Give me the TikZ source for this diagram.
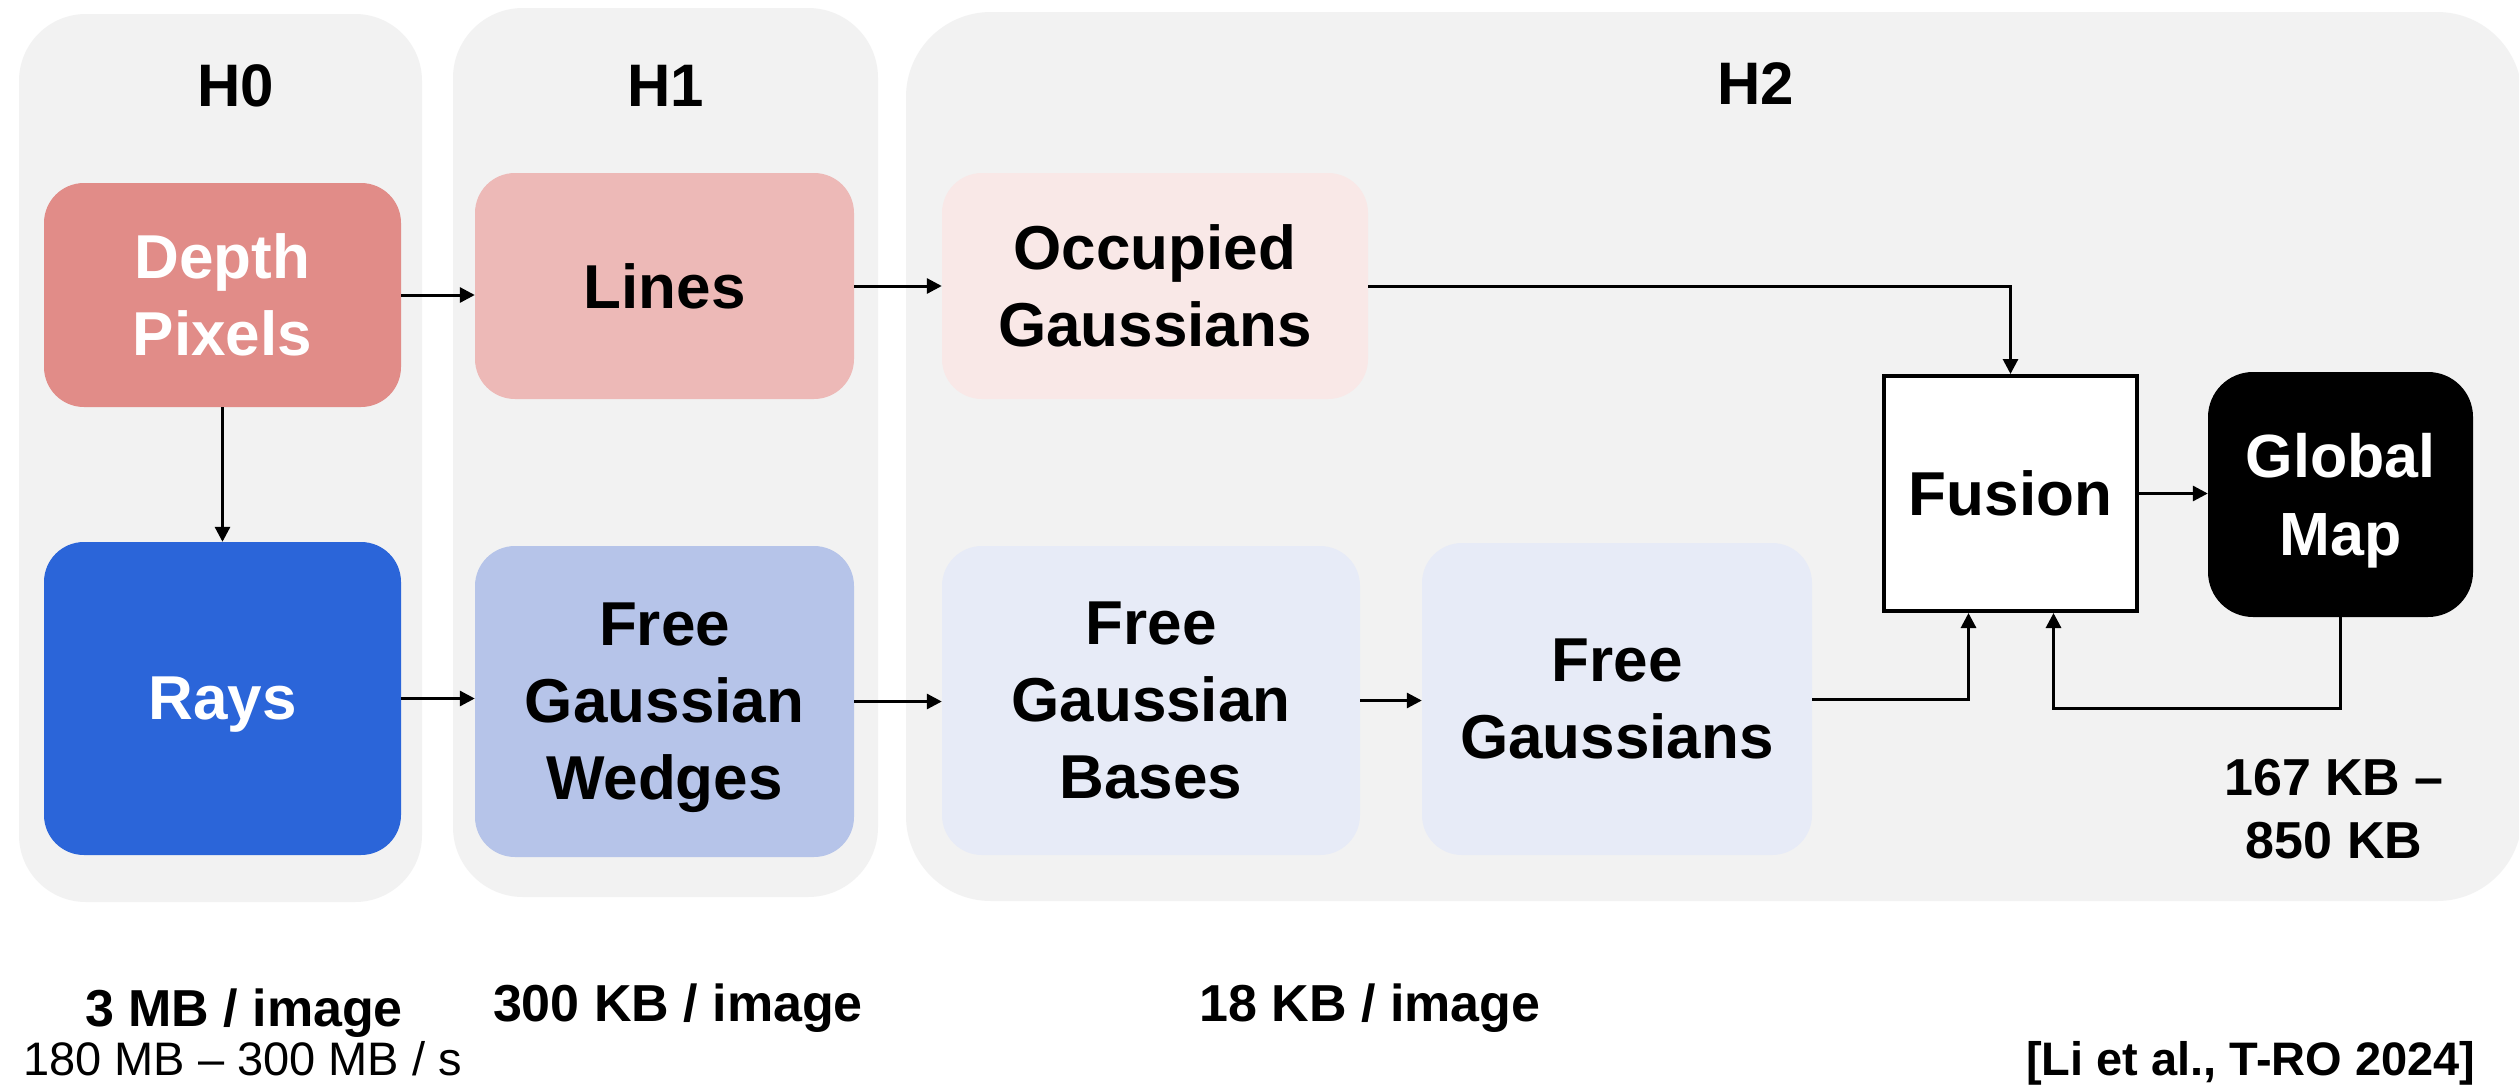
\documentclass[tikz,border=0pt]{standalone}
\usepackage{fontspec}
\setmainfont{Liberation Sans}
\usetikzlibrary{arrows.meta}
\definecolor{panelc}{HTML}{F2F2F2}
\definecolor{depthc}{HTML}{E18C88}
\definecolor{linesc}{HTML}{EDB9B7}
\definecolor{occc}{HTML}{F9E8E7}
\definecolor{raysc}{HTML}{2B65D9}
\definecolor{wedgec}{HTML}{B6C4E9}
\definecolor{basec}{HTML}{E7EBF7}
\begin{document}
\begin{tikzpicture}[x=1pt,y=-1pt,
  panel/.style={fill=panelc, draw=none, inner sep=0pt, rectangle},
  box/.style={rectangle, rounded corners=40pt, draw=none, inner sep=0pt, align=center, text depth=0pt,
    font=\bfseries\fontsize{62}{77}\selectfont},
  conn/.style={line width=3pt, -{Triangle[length=15pt,width=15pt]}},
  head/.style={anchor=base, inner sep=0pt, font=\bfseries\fontsize{60}{72}\selectfont},
  lbl/.style={inner sep=0pt, align=center, font=\bfseries\fontsize{52}{63}\selectfont}
]
\clip (0,0) rectangle (2519,1087);
\fill[white] (0,0) rectangle (2519,1087);

% panels
\node[panel, rounded corners=67pt, minimum width=403pt, minimum height=888pt] (p0) at (220.5,458) {};
\node[panel, rounded corners=70pt, minimum width=425pt, minimum height=889pt] (p1) at (665.5,452.5) {};
\node[panel, rounded corners=85pt, minimum width=1616pt, minimum height=889pt] (p2) at (1714,456.5) {};

\node[head] (h0) at (236,106) {H0};
\node[head] (h1) at (666,106) {H1};
\node[head] (h2) at (1756,104) {H2};

% boxes
\node[box, fill=depthc, text=white, minimum width=357pt, minimum height=224pt] (depth) at (222.5,295) {Depth\\Pixels};
\node[box, fill=linesc, minimum width=379pt, minimum height=226pt] (lines) at (664.5,286) {Lines};
\node[box, fill=occc, minimum width=426pt, minimum height=226pt] (occ) at (1155,286) {Occupied\\Gaussians};
\node[box, fill=raysc, text=white, minimum width=357pt, minimum height=313pt] (rays) at (222.5,698.5) {Rays};
\node[box, fill=wedgec, minimum width=379pt, minimum height=311pt] (wedge) at (664.5,701.5) {Free\\Gaussian\\Wedges};
\node[box, fill=basec, minimum width=418pt, minimum height=309pt] (bases) at (1151,700.5) {Free\\Gaussian\\Bases};
\node[box, fill=basec, minimum width=390pt, minimum height=312pt] (freeg) at (1617,699) {Free\\Gaussians};
\node[box, rounded corners=0pt, fill=white, draw=black, line width=4pt, minimum width=253pt, minimum height=235pt] (fusion) at (2010.5,493.5) {Fusion};
\node[box, rounded corners=45pt, fill=black, text=white, minimum width=265pt, minimum height=245pt,
  font=\bfseries\fontsize{61}{78}\selectfont] (global) at (2340.5,494.5) {Global\\Map};

% connectors
\draw[conn] (depth.east) -- (depth.east -| lines.west);
\draw[conn] (lines.east) -- (lines.east -| occ.west);
\draw[conn] (occ.east) -| (fusion.north);
\draw[conn] (depth.south) -- (rays.north);
\draw[conn] (rays.east) -- (rays.east -| wedge.west);
\draw[conn] (wedge.east) -- (wedge.east -| bases.west);
\draw[conn] (bases.east) -- (bases.east -| freeg.west);
\draw[conn] (freeg.east) -| ([xshift=-42pt]fusion.south);
\draw[conn] (global.south) -- ++(0,91) -| ([xshift=43pt]fusion.south);
\draw[conn] (fusion.east) -- (fusion.east -| global.west);

% labels
\node[lbl] (gsize) at (2334,809) {167 KB –\\850 KB};
\node[lbl, anchor=base] (s0) at (244,1026) {3 MB / image};
\node[lbl, anchor=base] (s1) at (678,1021) {300 KB / image};
\node[lbl, anchor=base] (s2) at (1370,1021) {18 KB / image};
\node[inner sep=0pt, anchor=base west, font=\fontsize{47}{56}\selectfont] (rate) at (23,1075) {180 MB – 300 MB / s};
\node[inner sep=0pt, anchor=base west, font=\bfseries\fontsize{47}{56}\selectfont] (cite) at (2026,1075) {[Li et al., T-RO 2024]};
\end{tikzpicture}
\end{document}
